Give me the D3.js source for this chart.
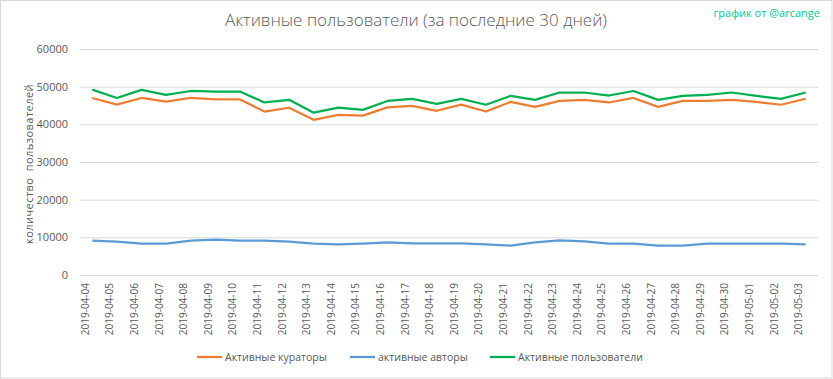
<!DOCTYPE html>
<html>
<head>
<meta charset="utf-8">
<script src="https://cdn.jsdelivr.net/npm/d3@7"></script>
<style>
  body { margin: 0; background: #fff; }
  svg { display: block; }
</style>
</head>
<body>
<div id="chart"></div>
<script>
const dates = ["2019-04-04","2019-04-05","2019-04-06","2019-04-07","2019-04-08","2019-04-09","2019-04-10",
    "2019-04-11","2019-04-12","2019-04-13","2019-04-14","2019-04-15","2019-04-16","2019-04-17","2019-04-18",
    "2019-04-19","2019-04-20","2019-04-21","2019-04-22","2019-04-23","2019-04-24","2019-04-25","2019-04-26",
    "2019-04-27","2019-04-28","2019-04-29","2019-04-30","2019-05-01","2019-05-02","2019-05-03"];

const curators = [47000, 45250, 47000, 46050, 47000, 46600, 46600, 43400, 44400, 41200, 42500, 42300, 44500, 44900,
    43600, 45250, 43400, 45950, 44650, 46250, 46500, 45800, 47000, 44650, 46250, 46250, 46500, 45950, 45200, 46800];
const authors = [9150, 8850, 8350, 8350, 9150, 9400, 9150, 9150, 8850, 8350, 8100, 8350, 8650, 8400,
    8400, 8400, 8150, 7800, 8650, 9200, 8950, 8350, 8350, 7800, 7800, 8350, 8350, 8350, 8350, 8100];
const users = [49200, 47000, 49150, 47800, 48850, 48700, 48700, 45800, 46500, 43100, 44450, 43850, 46200, 46750,
    45450, 46750, 45200, 47550, 46500, 48450, 48450, 47650, 48850, 46500, 47550, 47800, 48450, 47550, 46750, 48450];

const yTicks = [0, 10000, 20000, 30000, 40000, 50000, 60000];

const series = [
    { name: "Активные кураторы", values: curators, color: "#ed7d31" },
    { name: "активные авторы", values: authors, color: "#5b9bd5" },
    { name: "Активные пользователи", values: users, color: "#00b050" }
];

const width = 833, height = 379;
const margin = { top: 49, right: 15, bottom: 104, left: 80 };
const innerW = width - margin.left - margin.right;
const innerH = height - margin.top - margin.bottom;
const font = "'Open Sans', 'Liberation Sans', sans-serif";

const svg = d3.select("#chart").append("svg")
    .attr("width", width)
    .attr("height", height)
    .style("font-family", font);

svg.append("rect")
    .attr("x", 0.5).attr("y", 0.5)
    .attr("width", width - 1.5).attr("height", height - 1.5)
    .attr("fill", "#fff")
    .attr("stroke", "#d9d9d9");

const g = svg.append("g").attr("transform", `translate(${margin.left},${margin.top})`);

const x = d3.scaleBand().domain(dates).range([0, innerW]);
const y = d3.scaleLinear().domain([0, 60000]).range([innerH, 0]);

// gridlines
g.append("g")
    .call(d3.axisLeft(y).tickValues(yTicks).tickSize(-innerW).tickFormat(""))
    .call(a => a.select(".domain").remove())
    .selectAll("line")
    .attr("stroke", "#d9d9d9");

// y tick labels
g.append("g")
    .call(d3.axisLeft(y).tickValues(yTicks).tickSize(0).tickPadding(12).tickFormat(d3.format("d")))
    .call(a => a.select(".domain").remove())
    .selectAll("text")
    .attr("fill", "#595959")
    .attr("font-size", "11px")
    .style("font-family", font);

// x axis labels
g.append("g")
    .attr("transform", `translate(0,${innerH})`)
    .call(d3.axisBottom(x).tickSize(0))
    .call(a => a.select(".domain").remove())
    .selectAll("text")
    .attr("fill", "#595959")
    .attr("font-size", "10px")
    .style("font-family", font)
    .attr("transform", "rotate(-90)")
    .attr("text-anchor", "end")
    .attr("dx", "-8px")
    .attr("dy", "-0.35em")
    .attr("x", 0)
    .attr("y", 0);

const line = d3.line()
    .x((d, i) => x(dates[i]) + x.bandwidth() / 2)
    .y(d => y(d));

g.selectAll(".series")
    .data(series)
    .enter()
    .append("path")
    .attr("class", "series")
    .attr("fill", "none")
    .attr("stroke", d => d.color)
    .attr("stroke-width", 2.25)
    .attr("stroke-linejoin", "round")
    .attr("d", d => line(d.values));

// title
svg.append("text")
    .attr("x", 416)
    .attr("y", 26)
    .attr("text-anchor", "middle")
    .attr("fill", "#595959")
    .attr("font-size", "17px")
    .style("font-family", font)
    .style("font-weight", 300)
    .text("Активные пользователи (за последние 30 дней)");

svg.append("text")
    .attr("x", 820)
    .attr("y", 17)
    .attr("text-anchor", "end")
    .attr("fill", "#00c896")
    .attr("font-size", "11px")
    .text("график от @arcange");

// y axis title
svg.append("text")
    .attr("transform", `translate(33,164) rotate(-90)`)
    .attr("text-anchor", "middle")
    .attr("fill", "#595959")
    .attr("font-size", "11px")
    .attr("letter-spacing", "0.45px")
    .attr("word-spacing", "3px")
    .text("количество пользователей");

// legend
const legendX = [197, 350, 490];
const legend = svg.selectAll(".legend")
    .data(series)
    .enter()
    .append("g")
    .attr("class", "legend")
    .attr("transform", (d, i) => `translate(${legendX[i]},357)`);

legend.append("line")
    .attr("x1", 0).attr("x2", 25)
    .attr("stroke", d => d.color)
    .attr("stroke-width", 2.25);

legend.append("text")
    .attr("x", 28)
    .attr("y", 4)
    .attr("fill", "#595959")
    .attr("font-size", "10.5px")
    .text(d => d.name);
</script>
</body>
</html>
